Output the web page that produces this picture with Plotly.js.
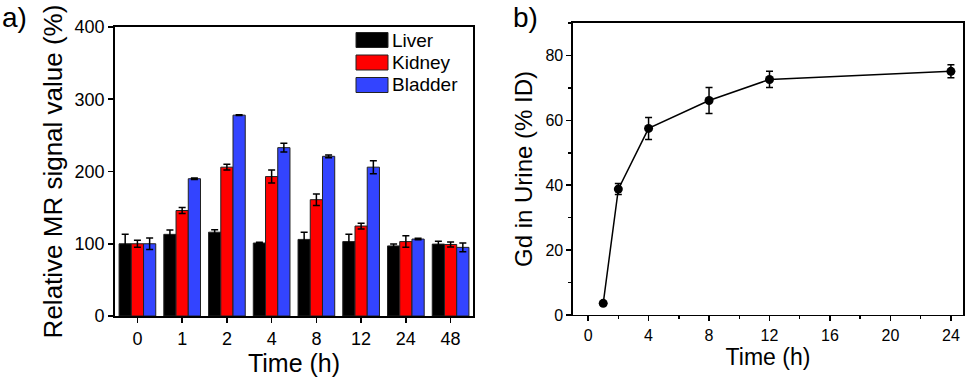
<!DOCTYPE html>
<html>
<head>
<meta charset="utf-8">
<script src="https://cdn.plot.ly/plotly-3.0.1.min.js"></script>
<style>
  html, body { margin: 0; padding: 0; background: #ffffff; }
  #chart { width: 970px; height: 377px; }
</style>
</head>
<body>
<div id="chart"></div>
<script>
// Panel a: relative MR signal per organ over time
const timeCategories = ['0', '1', '2', '4', '8', '12', '24', '48'];
const liverValues   = [100, 113, 116, 101, 106, 103, 97, 99.5];
const liverErrors   = [13, 6, 3.5, 1, 10, 10, 2.5, 4];
const kidneyValues  = [100, 146, 206, 193, 161, 124.5, 103, 99];
const kidneyErrors  = [5, 4, 4, 9, 8, 4, 8, 3.5];
const bladderValues = [100, 190, 278, 233, 221, 206, 106.5, 95];
const bladderErrors = [8, 1, 0.5, 6, 2, 9, 1, 6];
const organNames    = ['Liver', 'Kidney', 'Bladder'];
const organColors   = ['#000000', '#ff0000', '#3344ff'];

// Panel b: Gd in urine (% injected dose)
const urineTimes  = [1, 2, 4, 8, 12, 24];
const urineValues = [3.6, 38.8, 57.5, 66.1, 72.6, 75.1];
const urineErrors = [0.5, 1.7, 3.4, 4, 2.5, 2];

const FONT = '"Liberation Sans", Arial, sans-serif';

function barTrace(name, values, errors, color) {
    return {
        type: 'bar',
        name: name,
        x: timeCategories,
        y: values,
        xaxis: 'x',
        yaxis: 'y',
        showlegend: false,
        marker: { color: color, line: { color: '#222222', width: 1 } },
        error_y: { type: 'data', array: errors, visible: true, color: '#000000', thickness: 1.5, width: 3.5 },
    };
}

const traces = [
    barTrace(organNames[0], liverValues, liverErrors, organColors[0]),
    barTrace(organNames[1], kidneyValues, kidneyErrors, organColors[1]),
    barTrace(organNames[2], bladderValues, bladderErrors, organColors[2]),
    {
        type: 'scatter',
        mode: 'lines+markers',
        x: urineTimes,
        y: urineValues,
        xaxis: 'x2',
        yaxis: 'y2',
        showlegend: false,
        line: { color: '#000000', width: 1.5 },
        marker: { color: '#000000', size: 9 },
        error_y: { type: 'data', array: urineErrors, visible: true, color: '#000000', thickness: 1.5, width: 3.5 },
    },
];

// Legend of panel a: large Origin-style swatches, built as shapes + labels
const legendShapes = [];
const legendLabels = [];
organNames.forEach((name, i) => {
    const top = 32.5 + i * 22.5;      // px from top of the figure
    legendShapes.push({
        type: 'rect', xref: 'paper', yref: 'paper',
        x0: 356 / 970, x1: 388 / 970,
        y0: 1 - (top + 15) / 377, y1: 1 - top / 377,
        fillcolor: organColors[i],
        line: { color: '#222222', width: 1 },
    });
    legendLabels.push({
        text: name, xref: 'paper', yref: 'paper',
        x: 390 / 970, y: 1 - (top + 7.5) / 377,
        xanchor: 'left', yanchor: 'middle', showarrow: false,
        font: { size: 19 },
    });
});

const axisBase = {
    showgrid: false,
    zeroline: false,
    showline: true,
    linecolor: '#000000',
    mirror: true,
    ticks: 'outside',
    tickcolor: '#000000',
    ticklen: 5,
    tickwidth: 1.5,
};

const layout = {
    width: 970,
    height: 377,
    margin: { l: 0, r: 0, t: 0, b: 0 },
    paper_bgcolor: '#ffffff',
    plot_bgcolor: '#ffffff',
    font: { family: FONT, color: '#000000' },
    barmode: 'group',
    bargap: 0.18,
    bargroupgap: 0,
    showlegend: false,
    xaxis: Object.assign({}, axisBase, {
        domain: [0.1186, 0.4876],
        anchor: 'y',
        type: 'category',
        range: [-0.5, 7.5],
        linewidth: 2,
        tickfont: { size: 18 },
        title: { text: 'Time (h)', font: { size: 25 }, standoff: 4 },
    }),
    yaxis: Object.assign({}, axisBase, {
        domain: [0.1618, 0.9284],
        anchor: 'x',
        range: [0, 400],
        dtick: 100,
        linewidth: 2,
        tickfont: { size: 18 },
        title: { text: 'Relative MR signal value (%)', font: { size: 26 }, standoff: 4 },
    }),
    xaxis2: Object.assign({}, axisBase, {
        domain: [0.5907, 0.9928],
        anchor: 'y2',
        range: [-1, 24.8],
        tick0: 0,
        dtick: 4,
        linewidth: 1.5,
        tickfont: { size: 16 },
        minor: { dtick: 2, ticks: 'outside', ticklen: 3, tickcolor: '#000000' },
        title: { text: 'Time (h)', font: { size: 23 }, standoff: 5 },
    }),
    yaxis2: Object.assign({}, axisBase, {
        domain: [0.1645, 0.939],
        anchor: 'x2',
        range: [0, 90],
        tick0: 0,
        dtick: 20,
        linewidth: 1.5,
        tickfont: { size: 16 },
        minor: { dtick: 10, ticks: 'outside', ticklen: 3, tickcolor: '#000000' },
        title: { text: 'Gd in Urine (% ID)', font: { size: 24 }, standoff: 6 },
    }),
    shapes: legendShapes,
    annotations: [
        { text: 'a)', xref: 'paper', yref: 'paper', x: 0.0, y: 1.0, xanchor: 'left', yanchor: 'top', showarrow: false, font: { size: 28 } },
        { text: 'b)', xref: 'paper', yref: 'paper', x: 0.527, y: 1.0, xanchor: 'left', yanchor: 'top', showarrow: false, font: { size: 28 } },
    ].concat(legendLabels),
};

Plotly.newPlot('chart', traces, layout, { displayModeBar: false, staticPlot: true });
</script>
</body>
</html>
